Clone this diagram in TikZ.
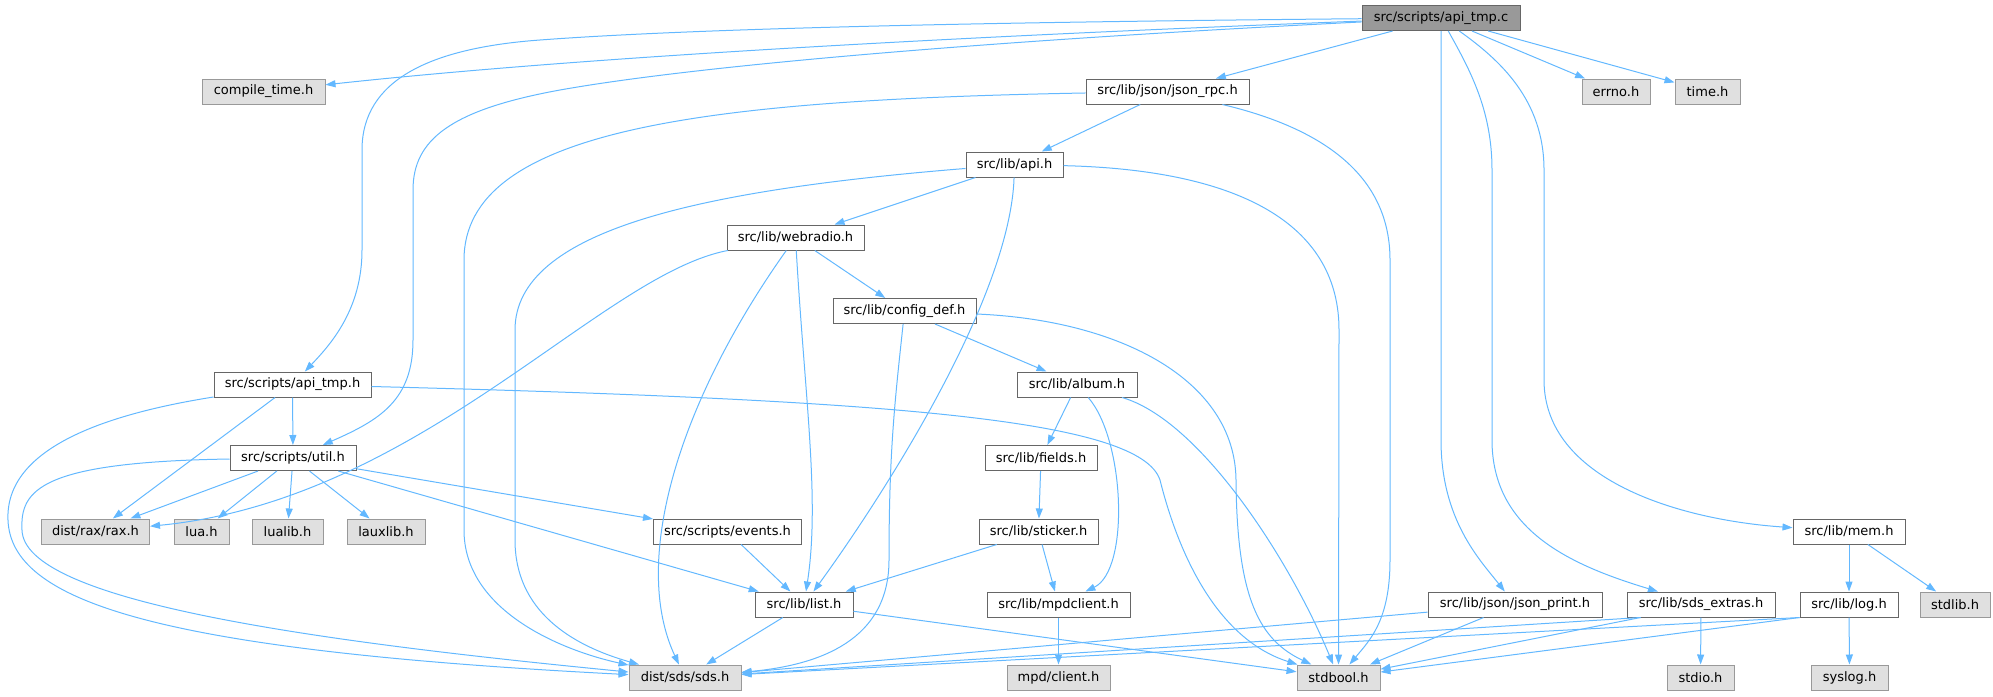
\documentclass[tikz,border=0pt]{standalone}
\usepackage{fontspec}
\setmainfont{DejaVu Sans}
\usetikzlibrary{arrows.meta}

\definecolor{edgeblue}{HTML}{63B8FF}
\definecolor{boxgray}{HTML}{E0E0E0}
\definecolor{rootgray}{HTML}{999999}
\definecolor{linegray}{HTML}{666666}

\tikzset{
  box/.style={rectangle, minimum height=25pt, inner sep=0pt, line width=1pt,
              font=\fontsize{13}{15}\selectfont},
  hdr/.style={box, draw=linegray, fill=white},
  sys/.style={box, draw=rootgray, fill=boxgray},
  root/.style={box, draw=linegray, fill=rootgray},
  inc/.style={draw=edgeblue, line width=1pt, -{Triangle[length=10pt,width=7pt]}}
}

\begin{document}
\begin{tikzpicture}[x=1pt,y=-1pt]
\useasboundingbox (0,0) rectangle (1993,696);

% rows of the include graph
\node [root, minimum width=158pt] (cfile)     at (1441,18)     {src/scripts/api\_tmp.c};

\node [sys,  minimum width=123pt] (ctime)     at (263.5,91.5)  {compile\_time.h};
\node [hdr,  minimum width=163pt] (jrpc)      at (1167.5,91.5) {src/lib/json/json\_rpc.h};
\node [sys,  minimum width=68pt]  (errno)     at (1616,91.5)   {errno.h};
\node [sys,  minimum width=65pt]  (timeh)     at (1707.5,91.5) {time.h};

\node [hdr,  minimum width=97pt]  (api)       at (1014.5,164.5) {src/lib/api.h};
\node [hdr,  minimum width=137pt] (webradio)  at (795.5,237.5) {src/lib/webradio.h};
\node [hdr,  minimum width=143pt] (configdef) at (904.5,311)   {src/lib/config\_def.h};

\node [hdr,  minimum width=157pt] (apitmph)   at (292.5,384.5) {src/scripts/api\_tmp.h};
\node [hdr,  minimum width=120pt] (album)     at (1077,384.5)  {src/lib/album.h};

\node [hdr,  minimum width=126pt] (util)      at (293,458)     {src/scripts/util.h};
\node [hdr,  minimum width=112pt] (fields)    at (1041,458)    {src/lib/fields.h};

\node [sys,  minimum width=108pt] (rax)       at (95.5,531.5)  {dist/rax/rax.h};
\node [sys,  minimum width=55pt]  (lua)       at (201.5,531.5) {lua.h};
\node [sys,  minimum width=71pt]  (lualib)    at (287.5,531.5) {lualib.h};
\node [sys,  minimum width=78pt]  (lauxlib)   at (386,531.5)   {lauxlib.h};
\node [hdr,  minimum width=148pt] (events)    at (727.5,531.5) {src/scripts/events.h};
\node [hdr,  minimum width=119pt] (sticker)   at (1038.5,531.5) {src/lib/sticker.h};
\node [hdr,  minimum width=112pt] (mem)       at (1849,531.5)  {src/lib/mem.h};

\node [hdr,  minimum width=98pt]  (list)      at (804,604.5)   {src/lib/list.h};
\node [hdr,  minimum width=143pt] (mpdclient) at (1058.5,604.5) {src/lib/mpdclient.h};
\node [hdr,  minimum width=174pt] (jprint)    at (1515,604.5)  {src/lib/json/json\_print.h};
\node [hdr,  minimum width=148pt] (sdsextras) at (1701,604.5)  {src/lib/sds\_extras.h};
\node [hdr,  minimum width=98pt]  (log)       at (1849,604.5)  {src/lib/log.h};
\node [sys,  minimum width=70pt]  (stdlib)    at (1955,604.5)  {stdlib.h};

\node [sys,  minimum width=112pt] (sds)       at (685,677.5)   {dist/sds/sds.h};
\node [sys,  minimum width=103pt] (mpdc)      at (1058.5,677.5) {mpd/client.h};
\node [sys,  minimum width=83pt]  (stdbool)   at (1338.5,677.5) {stdbool.h};
\node [sys,  minimum width=67pt]  (stdio)     at (1700.5,677.5) {stdio.h};
\node [sys,  minimum width=77pt]  (syslog)    at (1849.5,677.5) {syslog.h};

% api_tmp.c
\draw [inc] (cfile) .. controls (1000,35) and (600,55) .. (ctime);
\draw [inc] (cfile) .. controls (1000,22) and (700,28) .. (540,40)
            .. controls (430,48) and (362,80) .. (362,150) -- (362,250)
            .. controls (362,310) and (330,345) .. (apitmph);
\draw [inc] (cfile) .. controls (1000,40) and (700,65) .. (560,90)
            .. controls (450,110) and (413,140) .. (413,190) -- (413,340)
            .. controls (413,400) and (380,420) .. (util);
\draw [inc] (cfile) -- (jrpc);
\draw [inc] (cfile) -- (errno);
\draw [inc] (cfile) -- (timeh);
\draw [inc] (cfile) -- (1441,440) .. controls (1441,520) and (1480,560) .. (jprint);
\draw [inc] (cfile) .. controls (1470,70) and (1492,110) .. (1492,170) -- (1492,440)
            .. controls (1492,530) and (1570,565) .. (sdsextras);
\draw [inc] (cfile) .. controls (1500,60) and (1544,100) .. (1544,170) -- (1544,380)
            .. controls (1544,480) and (1680,520) .. (mem);

% api_tmp.h
\draw [inc] (apitmph) -- (util);
\draw [inc] (apitmph) -- (rax);
\draw [inc] (apitmph) .. controls (100,415) and (5,450) .. (8,520)
            .. controls (11,600) and (150,650) .. (sds);
\draw [inc] (apitmph) .. controls (900,400) and (1140,420) .. (1160,480)
            .. controls (1180,560) and (1220,640) .. (stdbool);

% util.h
\draw [inc] (util) -- (rax);
\draw [inc] (util) -- (lua);
\draw [inc] (util) -- (lualib);
\draw [inc] (util) -- (lauxlib);
\draw [inc] (util) -- (events);
\draw [inc] (util) -- (list);
\draw [inc] (util) .. controls (40,462) and (20,490) .. (22,530)
            .. controls (24,600) and (300,640) .. (sds);

% json_rpc.h
\draw [inc] (jrpc) -- (api);
\draw [inc] (jrpc) .. controls (700,100) and (464,130) .. (464,260) -- (464,530)
            .. controls (464,610) and (560,650) .. (sds);
\draw [inc] (jrpc) .. controls (1330,130) and (1390,180) .. (1390,260) -- (1390,560)
            .. controls (1390,620) and (1370,640) .. (stdbool);

% api.h
\draw [inc] (api) -- (webradio);
\draw [inc] (api) .. controls (1010,300) and (880,500) .. (list);
\draw [inc] (api) .. controls (700,190) and (515,230) .. (515,330) -- (515,540)
            .. controls (515,610) and (570,645) .. (sds);
\draw [inc] (api) .. controls (1250,170) and (1339,230) .. (1339,330) -- (stdbool);

% webradio.h
\draw [inc] (webradio) -- (configdef);
\draw [inc] (webradio) .. controls (600,275) and (420,500) .. (rax);
\draw [inc] (webradio) .. controls (680,400) and (630,560) .. (sds);
\draw [inc] (webradio) .. controls (805,400) and (820,500) .. (list);

% config_def.h
\draw [inc] (configdef) -- (album);
\draw [inc] (configdef) .. controls (895,400) and (889,450) .. (889,560)
            .. controls (889,640) and (820,665) .. (sds);
\draw [inc] (configdef) .. controls (1120,320) and (1235,380) .. (1236,480)
            .. controls (1237,600) and (1260,640) .. (stdbool);

% album.h
\draw [inc] (album) -- (fields);
\draw [inc] (album) .. controls (1125,440) and (1130,570) .. (mpdclient);
\draw [inc] (album) .. controls (1200,420) and (1290,560) .. (stdbool);

% lower rows
\draw [inc] (fields) -- (sticker);
\draw [inc] (sticker) -- (list);
\draw [inc] (sticker) -- (mpdclient);
\draw [inc] (events) -- (list);
\draw [inc] (list) -- (sds);
\draw [inc] (list) -- (stdbool);
\draw [inc] (mpdclient) -- (mpdc);
\draw [inc] (jprint) -- (sds);
\draw [inc] (jprint) -- (stdbool);
\draw [inc] ([xshift=14pt]sdsextras.south west) -- (sds);
\draw [inc] ([xshift=14pt]sdsextras.south west) -- (stdbool);
\draw [inc] (sdsextras) -- (stdio);
\draw [inc] (mem) -- (log);
\draw [inc] (mem) -- (stdlib);
\draw [inc] (log.south west) -- (sds);
\draw [inc] (log.south west) -- (stdbool);
\draw [inc] (log) -- (syslog);

\end{tikzpicture}
\end{document}
